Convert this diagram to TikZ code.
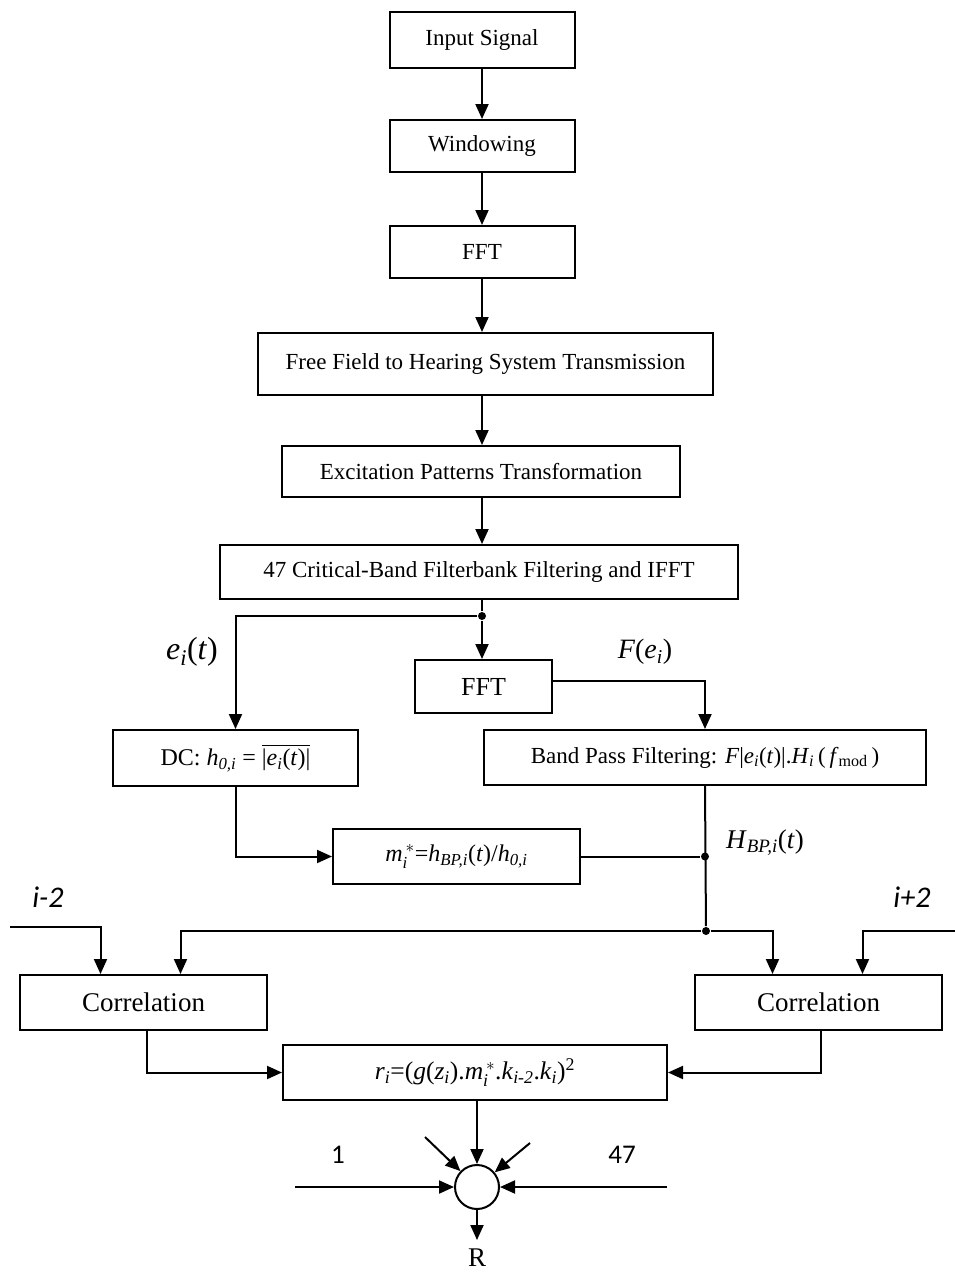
\documentclass[tikz,border=0pt]{standalone}
\usepackage{amsmath}
\usepackage{fontspec}
\setmainfont{Liberation Serif}
\newfontfamily\lblfont{Carlito}
\usetikzlibrary{arrows.meta}

\begin{document}
\begin{tikzpicture}[x=1pt,y=-1pt,line width=2pt,
  blk/.style={draw,rectangle,inner sep=0pt,font=\fontsize{23}{27}\selectfont},
  eqblk/.style={blk,font=\fontsize{24}{28}\selectfont},
  arr/.style={-{Triangle[length=15pt,width=13pt]}},
  dot/.style={circle,fill,inner sep=0pt,minimum size=8pt},
  lbl/.style={inner sep=0pt,font=\fontsize{28}{32}\selectfont},
  sans/.style={inner sep=0pt,font=\lblfont\fontsize{27}{31}\selectfont}]
\useasboundingbox (0,0) rectangle (955,1272);
\coordinate (col) at (482,0);
\node[blk,minimum width=185pt,minimum height=56pt] (inp) at (482,40) {Input Signal};
\node[blk,minimum width=185pt,minimum height=52pt] (win) at (482,146) {Windowing};
\node[blk,minimum width=185pt,minimum height=52pt] (fft1) at (482,252) {FFT};
\node[blk,minimum width=455pt,minimum height=62pt] (free) at (485.5,364) {Free Field to Hearing System Transmission};
\node[blk,minimum width=398pt,minimum height=51pt] (exc) at (481,471.5) {Excitation Patterns Transformation};
\node[blk,minimum width=518pt,minimum height=54pt] (crit) at (479,572) {47 Critical-Band Filterbank Filtering and IFFT};
\node[blk,minimum width=137pt,minimum height=53pt,font=\fontsize{26}{30}\selectfont] (fft2) at (483.5,686.5) {FFT};
\node[eqblk,minimum width=442pt,minimum height=55pt,font=\fontsize{23}{27}\selectfont] (bpf) at (705,757.5) {Band Pass Filtering: \textit{F}|\textit{e}\textsubscript{\textit{i}}(\textit{t})|.\textit{H}\textsubscript{\textit{i}}\,(\,\textit{f}\textsubscript{mod}\,)};
\node[eqblk,minimum width=245pt,minimum height=56pt] (dc) at (235.5,758) {DC: \textit{h}\textsubscript{\textit{0,i}} = $\overline{\text{|\textit{e}\textsubscript{\textit{i}}(\textit{t})|}}$};
\node[eqblk,minimum width=247pt,minimum height=55pt] (mstar) at (456.5,856.5) {$\textit{m}_{\textit{i}}^{\,*}$=\textit{h}\textsubscript{\textit{BP,i}}(\textit{t})/\textit{h}\textsubscript{\textit{0,i}}};
\node[blk,minimum width=247pt,minimum height=55pt,font=\fontsize{27}{31}\selectfont] (corl) at (143.5,1002.5) {Correlation};
\node[blk,minimum width=247pt,minimum height=55pt,font=\fontsize{27}{31}\selectfont] (corr) at (818.5,1002.5) {Correlation};
\node[eqblk,minimum width=384pt,minimum height=55pt,font=\fontsize{25.5}{29}\selectfont] (rbox) at (475,1072.5) {\textit{r}\textsubscript{\textit{i}}=(\textit{g}(\textit{z}\textsubscript{\textit{i}}).$\textit{m}_{\textit{i}}^{\,*}$.\textit{k}\textsubscript{\textit{i-2}}.\textit{k}\textsubscript{\textit{i}})\textsuperscript{2}};
\node[draw,circle,minimum size=44pt,inner sep=0pt] (sum) at (477,1187) {};
\node[dot] (j1) at (482,616) {};
\node[dot] (j2) at (bpf.south |- mstar.east) {};
\node[dot] (j3) at (706,931) {};
\coordinate (lin) at (10,927);
\coordinate (rin) at (955,931);
\coordinate (d1) at (425,1137);
\coordinate (d2) at (530,1143);
\coordinate (h1) at (295,1187);
\coordinate (h2) at (667,1187);
\coordinate (out) at (477,1240);
\node[lbl,font=\fontsize{32}{36}\selectfont] (lei) at (192,652) {\textit{e}\textsubscript{\textit{i}}(\textit{t})};
\node[lbl] (lfe) at (645,652) {\textit{F}(\textit{e}\textsubscript{\textit{i}})};
\node[lbl,font=\fontsize{27}{31}\selectfont] (lhbp) at (765,843) {\textit{H}\textsubscript{\textit{BP,i}}(\textit{t})};
\node[sans,font=\lblfont\fontsize{30}{34}\selectfont] (lm2) at (48,897) {\itshape i-2};
\node[sans,font=\lblfont\fontsize{30}{34}\selectfont] (lp2) at (912,897) {\itshape i+2};
\node[sans] (l1) at (338,1155) {1};
\node[sans] (l47) at (622,1155) {47};
\node[lbl,font=\fontsize{27}{31}\selectfont] (lR) at (477,1258) {R};
\draw[arr] (inp) -- (win);
\draw[arr] (win) -- (fft1);
\draw[arr] (fft1) -- (fft1 |- free.north);
\draw[arr] (free.south -| col) -- (exc.north -| col);
\draw[arr] (exc.south -| col) -- (crit.north -| col);
\draw (crit.south -| col) -- (j1);
\draw[arr] (j1) -- (fft2.north -| j1);
\draw[arr] (j1) -| (dc.north);
\draw[arr] ([yshift=6pt]fft2.east) -| (bpf.north);
\draw[arr] (dc.south) |- (mstar.west);
\draw (mstar.east) -- (j2);
\draw (bpf.south) -- (j3);
\draw[arr] (j3) -| ([xshift=37pt]corl.north);
\draw[arr] (j3) -| ([xshift=-46pt]corr.north);
\draw[arr] (lin) -| ([xshift=-43pt]corl.north);
\draw[arr] (rin) -| ([xshift=44pt]corr.north);
\draw[arr] ([xshift=3pt]corl.south) |- (rbox.west);
\draw[arr] ([xshift=2pt]corr.south) |- (rbox.east);
\draw[arr] (rbox.south -| sum) -- (sum.north);
\draw[arr] (d1) -- (sum);
\draw[arr] (d2) -- (sum);
\draw[arr] (h1) -- (sum.west);
\draw[arr] (h2) -- (sum.east);
\draw[arr] (sum.south) -- (out);
\end{tikzpicture}
\end{document}
